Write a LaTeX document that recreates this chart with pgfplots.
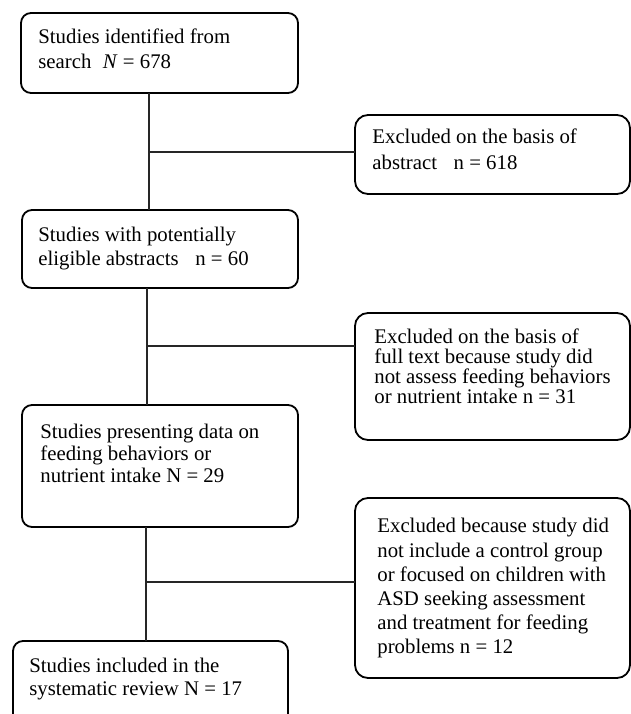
\documentclass[border=0pt]{standalone}
\usepackage{fontspec}
\setmainfont{Liberation Serif}
\usepackage{pgfplots}
\pgfplotsset{compat=1.18}

% one unit = one pixel of the reference (0.5pt)
\pgfplotsset{
  box/.style={black, line width=0.9pt, rounded corners=5pt, mark=none},
  rbox/.style={black, line width=0.9pt, rounded corners=6.5pt, mark=none},
  link/.style={black!85, line width=0.6pt, mark=none},
}
\tikzset{txt/.style={anchor=base west, inner sep=0pt, font=\fontsize{10.4}{12}\selectfont}}

\begin{document}
\begin{tikzpicture}
\begin{axis}[
    width=315.5pt, height=357pt,
    scale only axis,
    xmin=0, xmax=631,
    ymin=0, ymax=714,
    y dir=reverse,
    hide axis,
    clip=false,
]

% boxes
\addplot[box] coordinates {(21,13) (298,13) (298,93) (21,93)} --cycle;
\addplot[rbox] coordinates {(355,115) (630,115) (630,194) (355,194)} --cycle;
\addplot[box] coordinates {(22,210) (298,210) (298,288) (22,288)} --cycle;
\addplot[rbox] coordinates {(355,313) (630,313) (630,440) (355,440)} --cycle;
\addplot[box] coordinates {(22,405) (298,405) (298,527) (22,527)} --cycle;
\addplot[rbox] coordinates {(355,498) (630,498) (630,678) (355,678)} --cycle;
\addplot[box] coordinates {(13,716) (13,641) (288,641) (288,716)};

% connectors
\addplot[link] coordinates {(149,93) (149,210)};
\addplot[link] coordinates {(149,152) (355,152)};
\addplot[link] coordinates {(147,288) (147,405)};
\addplot[link] coordinates {(147,346) (355,346)};
\addplot[link] coordinates {(146,527) (146,641)};
\addplot[link] coordinates {(146,582) (355,582)};

% texts
\node[txt] at (axis cs:38,43) {Studies identified from};
\node[txt] at (axis cs:38,68) {search\hspace{0.55em}\textit{N} = 678};

\node[txt] at (axis cs:372,143) {Excluded on the basis of};
\node[txt] at (axis cs:372,169) {abstract\hspace{0.8em}n = 618};

\node[txt] at (axis cs:38,241) {Studies with potentially};
\node[txt] at (axis cs:38,265) {eligible abstracts\hspace{0.8em}n = 60};

\node[txt] at (axis cs:374,343) {Excluded on the basis of};
\node[txt] at (axis cs:374,363) {full text because study did};
\node[txt] at (axis cs:374,383) {not assess feeding behaviors};
\node[txt] at (axis cs:374,403) {or nutrient intake n = 31};

\node[txt] at (axis cs:40,438) {Studies presenting data on};
\node[txt] at (axis cs:40,460) {feeding behaviors or};
\node[txt] at (axis cs:40,482) {nutrient intake N = 29};

\node[txt] at (axis cs:377,532) {Excluded because study did};
\node[txt] at (axis cs:377,557) {not include a control group};
\node[txt] at (axis cs:377,581) {or focused on children with};
\node[txt] at (axis cs:377,605) {ASD seeking assessment};
\node[txt] at (axis cs:377,629) {and treatment for feeding};
\node[txt] at (axis cs:377,653) {problems n = 12};

\node[txt] at (axis cs:29,672) {Studies included in the};
\node[txt] at (axis cs:29,695) {systematic review N = 17};

\end{axis}
\pgfresetboundingbox
\useasboundingbox (current axis.south west) rectangle (current axis.north east);
\end{tikzpicture}
\end{document}
